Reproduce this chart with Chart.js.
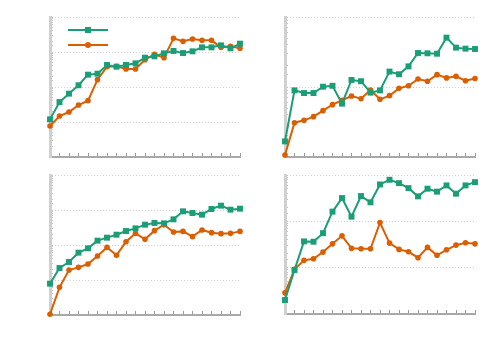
<!DOCTYPE html>
<html>
<head>
<meta charset="utf-8">
<script src="https://cdn.jsdelivr.net/npm/chart.js@4"></script>
<style>
  html, body { margin: 0; padding: 0; background: #ffffff; }
  body { width: 500px; height: 350px; position: relative; overflow: hidden; font-family: "DejaVu Sans", sans-serif; }
  canvas { position: absolute; }
</style>
</head>
<body>
<canvas id="c1" width="250" height="170" style="left:0;top:0"></canvas>
<canvas id="c2" width="250" height="170" style="left:250px;top:0"></canvas>
<canvas id="c3" width="250" height="180" style="left:0;top:170px"></canvas>
<canvas id="c4" width="250" height="180" style="left:250px;top:170px"></canvas>
<script>
// ---- data ----
const steps = ['0','1','2','3','4','5','6','7','8','9','10','11','12','13','14','15','16','17','18','19','20'];

const p1Green  = [11.9, 37.2, 64.6, 112, 225, 240, 426, 380, 426, 474, 689, 752, 916, 1069, 935, 1045, 1358, 1358, 1549, 1274, 1730];
const p1Orange = [7.69, 14.8, 19.3, 30.6, 40.7, 162, 380, 389, 327, 327, 604, 857, 689, 2455, 2018, 2350, 2153, 2153, 1358, 1452, 1274];

const p2Green  = [1.67, 8.95, 8.20, 8.20, 10.1, 10.4, 5.78, 12.6, 12.1, 8.30, 8.95, 16.6, 15.2, 19.7, 30.6, 30.3, 29.9, 50.7, 36.5, 35.3, 34.9];
const p2Orange = [1.07, 3.09, 3.34, 3.77, 4.59, 5.60, 6.46, 7.43, 6.81, 9.06, 6.67, 7.52, 9.57, 10.4, 13.0, 12.1, 15.0, 13.5, 14.2, 12.3, 13.2];

const p3Green  = [7.85, 22.0, 32.7, 60.4, 80.4, 133, 162, 197, 251, 299, 381, 426, 416, 541, 916, 820, 736, 1069, 1330, 1023, 1091];
const p3Orange = [1.05, 6.17, 19.3, 23.0, 28.6, 48.5, 85.7, 50.7, 124, 215, 145, 257, 381, 235, 245, 173, 269, 225, 211, 215, 245];

const p4Green  = [2.0, 8.91, 36.9, 36.3, 55.6, 162, 318, 126, 351, 257, 625, 789, 667, 521, 346, 506, 437, 596, 395, 596, 701];
const p4Orange = [2.86, 9.25, 14.4, 15.6, 21.7, 32.7, 48.6, 26.1, 25.6, 25.6, 94.2, 33.9, 24.8, 22.0, 16.4, 27.4, 18.5, 24.3, 30.7, 34.4, 32.7];

const yMin = [1, 1, 1, 1];
const yMax = [10000, 100, 10000, 1000];
const seriesNames = ['', ''];

// ---- styling ----
const GREEN = '#1b9e77';
const ORANGE = '#d95f02';

function legendIcon(color, shape) {
  const c = document.createElement('canvas');
  c.width = 40; c.height = 10;
  const g = c.getContext('2d');
  g.strokeStyle = color; g.lineWidth = 2;
  g.beginPath(); g.moveTo(0, 5); g.lineTo(40, 5); g.stroke();
  g.fillStyle = color;
  if (shape === 'rect') { g.fillRect(17, 2, 6, 6); }
  else { g.beginPath(); g.arc(20, 5, 3, 0, Math.PI * 2); g.fill(); }
  return c;
}

function isDecade(v) {
  const l = Math.log10(v);
  return Math.abs(l - Math.round(l)) < 1e-6;
}

const legendShift = {
  id: 'legendShift',
  afterLayout(chart) {
    if (chart.legend && chart.options.plugins.legend.display) {
      chart.legend.left += 13;
      chart.legend.top += 20;
    }
  }
};

function makeChart(id, g, o, idx, padding, showLegend) {
  const icons = [legendIcon(GREEN, 'rect'), legendIcon(ORANGE, 'circle')];
  return new Chart(document.getElementById(id), {
    type: 'line',
    data: {
      labels: steps,
      datasets: [
        { label: seriesNames[0], data: g, borderColor: GREEN, backgroundColor: GREEN,
          borderWidth: 2, pointStyle: 'rect', pointRadius: 4.2, pointBorderWidth: 0,
          tension: 0, clip: false },
        { label: seriesNames[1], data: o, borderColor: ORANGE, backgroundColor: ORANGE,
          borderWidth: 2, pointStyle: 'circle', pointRadius: 2.8, pointBorderWidth: 0,
          tension: 0, clip: false }
      ]
    },
    plugins: [legendShift],
    options: {
      responsive: false,
      animation: false,
      devicePixelRatio: 1,
      layout: { padding: padding },
      plugins: {
        tooltip: { enabled: false },
        legend: showLegend ? {
          display: true,
          position: 'chartArea',
          align: 'start',
          labels: {
            usePointStyle: true,
            pointStyleWidth: 40,
            font: { size: 10 },
            padding: 5,
            generateLabels: (chart) => chart.data.datasets.map((ds, i) => ({
              text: '', pointStyle: icons[i], datasetIndex: i,
              fillStyle: ds.borderColor, strokeStyle: ds.borderColor, lineWidth: 0, hidden: false
            }))
          }
        } : { display: false }
      },
      scales: {
        x: {
          type: 'category',
          offset: false,
          afterFit: (s) => { s.height = 0; },
          ticks: { display: false },
          grid: { drawOnChartArea: false, drawTicks: true, tickLength: -4, tickColor: '#9a9a9a', tickWidth: 1 },
          border: { display: true, color: '#a8a8a8', width: 2 }
        },
        y: {
          type: 'logarithmic',
          min: yMin[idx],
          max: yMax[idx],
          afterFit: (s) => { s.width = 0; },
          ticks: { display: false },
          grid: {
            drawTicks: true,
            tickLength: -3,
            tickColor: '#c4c4c4',
            tickWidth: 1,
            lineWidth: 1,
            color: (ctx) => (ctx.tick && isDecade(ctx.tick.value)) ? '#cfcfcf' : 'rgba(0,0,0,0)'
          },
          border: { display: true, color: '#d0d0d0', width: 3, dash: [1, 2] }
        }
      }
    }
  });
}

makeChart('c1', p1Green, p1Orange, 0, { left: 50, right: 10, top: 17, bottom: 13 }, true);
makeChart('c2', p2Green, p2Orange, 1, { left: 35, right: 25, top: 17, bottom: 13 }, false);
makeChart('c3', p3Green, p3Orange, 2, { left: 50, right: 10, top: 5, bottom: 35 }, false);
makeChart('c4', p4Green, p4Orange, 3, { left: 35, right: 25, top: 5, bottom: 36 }, false);
</script>
</body>
</html>
